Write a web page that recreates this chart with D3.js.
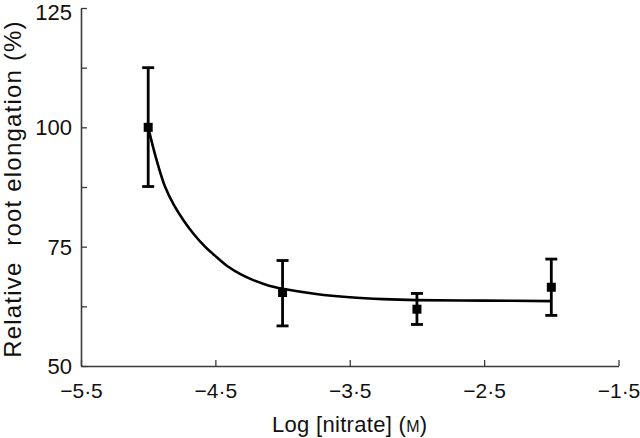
<!DOCTYPE html>
<html>
<head>
<meta charset="utf-8">
<script src="https://cdn.jsdelivr.net/npm/d3@7"></script>
<style>
  body { margin: 0; background: #fff; }
  svg { display: block; font-family: "Liberation Sans", Arial, Helvetica, sans-serif; }
</style>
</head>
<body>
<svg id="chart" width="640" height="438"></svg>
<script>
// ---- data ----
const pointX = [-5, -4, -3, -2];
const pointY = [100, 65.4, 61.9, 66.5];
const errLow = [87.6, 58.4, 58.7, 60.6];
const errHigh = [112.5, 72.1, 65.2, 72.4];

// fitted curve
const curveX = [-5, -4.94, -4.875, -4.81, -4.739, -4.66, -4.577, -4.49, -4.404, -4.31, -4.218, -4.14, -4.069, -4, -3.75, -3.5, -3.25, -3, -2.5, -2];
const curveY = [100, 93.4, 87.6, 83.8, 80.6, 77.6, 75.0, 72.8, 70.8, 69.2, 68.0, 67.2, 66.6, 66.2, 65.1, 64.4, 64.0, 63.8, 63.7, 63.6];

const xTicks = [-5.5, -4.5, -3.5, -2.5, -1.5];
const yTicks = [50, 75, 100, 125];
const yMinorTicks = [50, 62.5, 75, 87.5, 100, 112.5, 125];

// ---- layout ----
const svg = d3.select("#chart");
const mLeft = 81, mRight = 618.5, mTop = 8, mBottom = 366;
const x = d3.scaleLinear().domain([-5.5, -1.5]).range([mLeft, mRight]);
const y = d3.scaleLinear().domain([50, 125]).range([mBottom, mTop]);
const fmt = v => (v < 0 ? "\u2212" : "") + Math.abs(v).toFixed(1).replace(".", "\u00B7");

const axisColor = "#3a3a3a";

// x axis
const gx = svg.append("g").attr("transform", `translate(0,${mBottom})`)
  .call(d3.axisBottom(x).tickValues(xTicks).tickSize(-6).tickSizeOuter(0).tickFormat(fmt));
gx.select(".domain").attr("stroke", axisColor).attr("stroke-width", 1.6);
gx.selectAll(".tick line").attr("stroke", axisColor).attr("stroke-width", 1.3);
gx.selectAll(".tick text").attr("y", 32).attr("dy", 0).attr("font-size", 21).attr("fill", "#111")
  .attr("font-family", "Liberation Sans, Arial, sans-serif");

// y axis ticks (inward, every 12.5)
const gy = svg.append("g").attr("transform", `translate(${mLeft},0)`)
  .call(d3.axisLeft(y).tickValues(yMinorTicks).tickSize(-6).tickSizeOuter(0).tickFormat(""));
gy.select(".domain").attr("stroke", axisColor).attr("stroke-width", 1.6);
gy.selectAll(".tick line").attr("stroke", axisColor).attr("stroke-width", 1.3);

// y tick labels
svg.append("g").selectAll("text").data(yTicks).join("text")
  .attr("x", 72).attr("y", d => Math.max(y(d), 12.5)).attr("dy", "0.36em")
  .attr("text-anchor", "end").attr("font-size", 22).attr("fill", "#111")
  .text(d => d);

// axis titles
const xt = svg.append("text").attr("x", (mLeft + mRight) / 2).attr("y", 432)
  .attr("text-anchor", "middle").attr("font-size", 22).attr("fill", "#111")
  .attr("letter-spacing", 0.3);
xt.append("tspan").text("Log [nitrate] (");
xt.append("tspan").attr("font-size", 16).text("M");
xt.append("tspan").text(")");

svg.append("text")
  .attr("transform", `translate(21,${(mTop + mBottom) / 2 + 2}) rotate(-90)`)
  .attr("text-anchor", "middle").attr("font-size", 24).attr("fill", "#111")
  .attr("letter-spacing", 1.2)
  .attr("xml:space", "preserve")
  .style("white-space", "pre")
  .text("Relative  root elongation (%)");

// curve
const line = d3.line().x((d, i) => x(curveX[i])).y(d => y(d)).curve(d3.curveCatmullRom.alpha(0.5));
svg.append("path").datum(curveY).attr("d", line)
  .attr("fill", "none").attr("stroke", "#000").attr("stroke-width", 2.6);

// error bars
const eb = svg.append("g").selectAll("g").data(pointX).join("g");
eb.append("line")
  .attr("x1", d => x(d)).attr("x2", d => x(d))
  .attr("y1", (d, i) => y(errLow[i])).attr("y2", (d, i) => y(errHigh[i]))
  .attr("stroke", "#000").attr("stroke-width", 2.8);
eb.append("line")
  .attr("x1", d => x(d) - 6).attr("x2", d => x(d) + 6)
  .attr("y1", (d, i) => y(errLow[i])).attr("y2", (d, i) => y(errLow[i]))
  .attr("stroke", "#000").attr("stroke-width", 2.8);
eb.append("line")
  .attr("x1", d => x(d) - 6).attr("x2", d => x(d) + 6)
  .attr("y1", (d, i) => y(errHigh[i])).attr("y2", (d, i) => y(errHigh[i]))
  .attr("stroke", "#000").attr("stroke-width", 2.8);

// markers
svg.append("g").selectAll("rect").data(pointX).join("rect")
  .attr("x", d => x(d) - 4.5).attr("y", (d, i) => y(pointY[i]) - 4.5)
  .attr("width", 9).attr("height", 9).attr("fill", "#000");
</script>
</body>
</html>
